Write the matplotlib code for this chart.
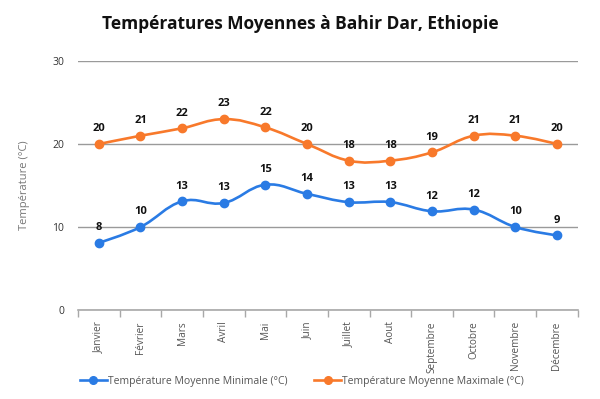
import numpy as np
import matplotlib
matplotlib.use("Agg")
import matplotlib.pyplot as plt
from matplotlib.path import Path
from matplotlib.patches import PathPatch
from matplotlib.lines import Line2D

months = ["Janvier", "Février", "Mars", "Avril", "Mai", "Juin", "Juillet",
          "Aout", "Septembre", "Octobre", "Novembre", "Décembre"]
t_min = [8.1, 10.0, 13.1, 12.9, 15.1, 14.0, 13.0, 13.0, 11.9, 12.1, 10.0, 9.0]
t_max = [20.0, 21.0, 21.9, 23.0, 22.0, 20.0, 18.0, 18.0, 19.0, 21.0, 21.0, 20.0]
series_names = ["Température Moyenne Minimale (°C)", "Température Moyenne Maximale (°C)"]
colors = ["#2a7be4", "#f8792b"]

plt.rcParams['font.family'] = ['Open Sans', 'DejaVu Sans']

fig = plt.figure(figsize=(6, 3.99), dpi=100)
ax = fig.add_axes([0.13, 0.223, 0.833, 0.624])

def spline_path(xs, ys, smoothing=1.5):
    denom = smoothing + 1
    verts = [(xs[0], ys[0])]
    codes = [Path.MOVETO]
    n = len(xs)
    ctrl = []
    for i in range(n):
        if 0 < i < n - 1:
            lx, ly = xs[i - 1], ys[i - 1]
            nx, ny = xs[i + 1], ys[i + 1]
            x, y = xs[i], ys[i]
            lcx = (smoothing * x + lx) / denom
            lcy = (smoothing * y + ly) / denom
            rcx = (smoothing * x + nx) / denom
            rcy = (smoothing * y + ny) / denom
            if rcx != lcx:
                corr = ((rcy - lcy) * (rcx - x)) / (rcx - lcx) + y - rcy
                lcy += corr
                rcy += corr
            ctrl.append(((lcx, lcy), (rcx, rcy)))
        else:
            ctrl.append(((xs[i], ys[i]), (xs[i], ys[i])))
    for i in range(1, n):
        verts += [ctrl[i - 1][1], ctrl[i][0], (xs[i], ys[i])]
        codes += [Path.CURVE4] * 3
    return Path(verts, codes)

x = np.arange(len(months))
for vals, c in zip([t_min, t_max], colors):
    p = spline_path(list(x), list(vals))
    ax.add_patch(PathPatch(p, facecolor='none', edgecolor=c, lw=1.9, zorder=3))
    ax.plot(x, vals, 'o', color=c, ms=6, zorder=4)
    for xi, v in zip(x, vals):
        ax.annotate(f"{v:.0f}", (xi, v), xytext=(0, 7), textcoords='offset points',
                    ha='center', va='bottom', fontsize=8, fontweight='bold',
                    color='#111111', zorder=5)

ax.set_xlim(-0.5, len(months) - 0.5)
ax.set_ylim(0, 30)
ax.set_yticks([0, 10, 20, 30])
ax.yaxis.grid(True, color='#9a9a9a', lw=1)
ax.set_axisbelow(True)
for s in ['top', 'right', 'left']:
    ax.spines[s].set_visible(False)
ax.spines['bottom'].set_color('#a8a8a8')
ax.spines['bottom'].set_linewidth(1.2)
ax.tick_params(axis='y', length=0, labelsize=7.5, labelcolor='#333333', pad=10)
ax.set_xticks(x)
ax.set_xticklabels(months, rotation=90, fontsize=7.2, color='#555555')
ax.tick_params(axis='x', length=0, pad=8)
ax.set_xticks(np.arange(-0.5, len(months)), minor=True)
ax.tick_params(axis='x', which='minor', length=5, color='#a8a8a8', width=1)
ax.set_ylabel("Température (°C)", fontsize=8, color='#777777', labelpad=16)

fig.text(0.5, 0.94, "Températures Moyennes à Bahir Dar, Ethiopie", ha='center',
         va='center', fontsize=12.5, fontweight='bold', color='#111111')

handles = [Line2D([0], [0], color=c, lw=1.9, marker='o', ms=5.5) for c in colors]
fig.legend(handles, series_names, loc='center', bbox_to_anchor=(0.503, 0.045), ncol=2,
           frameon=False, fontsize=7.5, labelcolor='#555555', handlelength=2.6,
           handletextpad=0.1, columnspacing=2.6)

fig.savefig("out.png", dpi=100)
